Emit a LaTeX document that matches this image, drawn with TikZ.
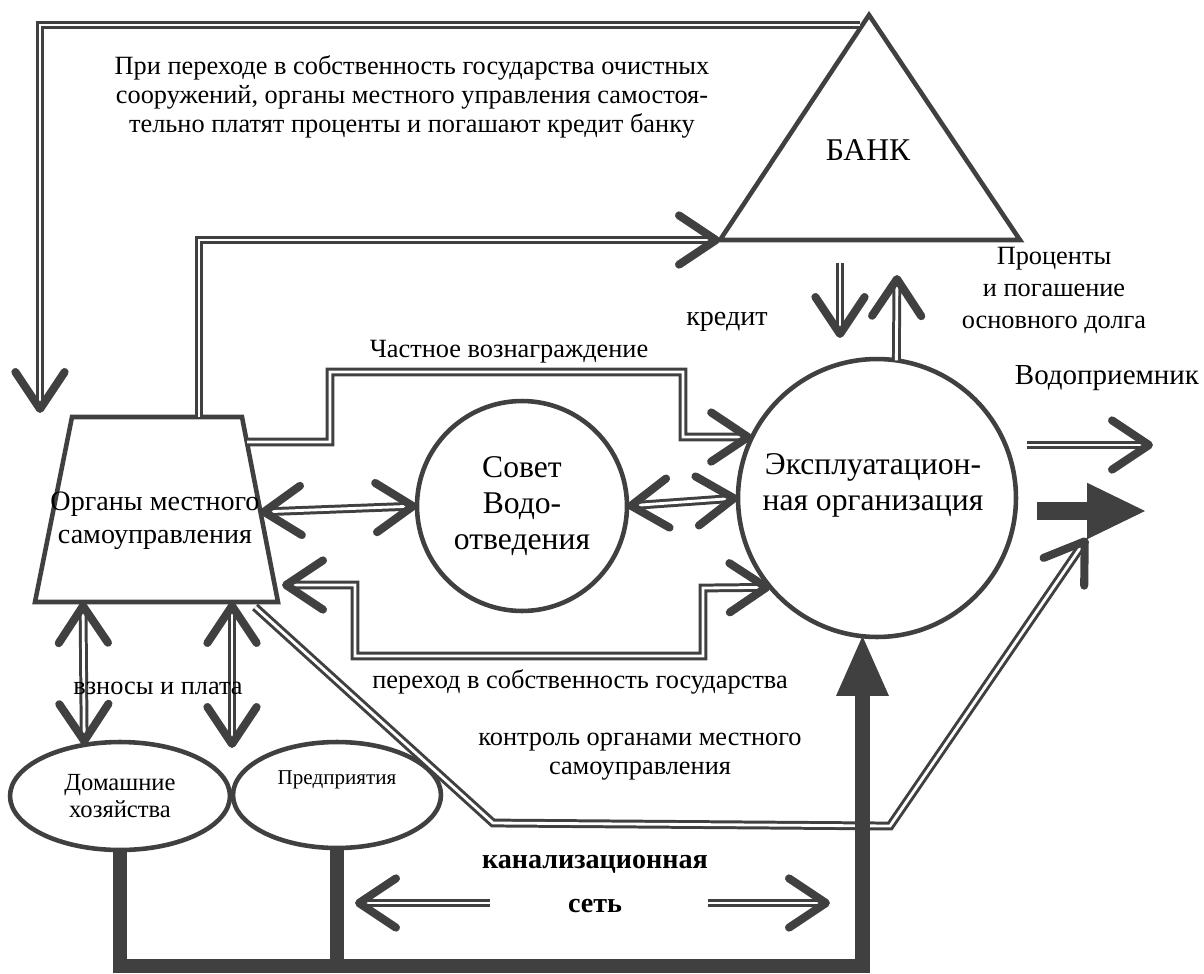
\documentclass[tikz,border=0pt]{standalone}
\usepackage{fontspec}
\setmainfont{Liberation Serif}
\usetikzlibrary{arrows.meta,shapes.geometric}
\definecolor{ink}{HTML}{404040}

\begin{document}
\begin{tikzpicture}[x=0.02cm, y=-0.02cm,
  every node/.style={inner sep=0pt, outer sep=0pt, align=center, font=\fontsize{15}{16.5}\selectfont},
  shp/.style={draw=ink, line width=2.6pt},
  dbl/.style={draw=ink, line width=1.7pt, double=white, double distance=1.6pt},
  barb/.tip={Straight Barb[length=21pt, width=28pt, line width=4.6pt, round]},
  chev/.style={-barb},
  chevs/.style={barb-barb},
  pipe/.style={draw=ink, line width=8pt},
  bigtxt/.style={font=\fontsize{18}{20.5}\selectfont},
]
\useasboundingbox (0,0) rectangle (1204,974);

% bank
\coordinate (bankL) at (720,240);
\coordinate (bankT) at (869,15);
\coordinate (bankR) at (1020,240);
\draw[shp] (bankL) -- (bankT) -- (bankR) -- cycle;
\node[bigtxt] (bank) at (868,150) {БАНК};

% local government
\coordinate (orgTL) at (72,417);
\coordinate (orgTR) at (242,417);
\coordinate (orgBR) at (278,602);
\coordinate (orgBL) at (35,602);
\coordinate (orgE) at (260,512);
\draw[shp] (orgTL) -- (orgTR) -- (orgBR) -- (orgBL) -- cycle;
\node[font=\fontsize{16}{18.8}\selectfont] (org) at (155,521) {Органы местного\\самоуправления};

% other participants
\node[shp, circle, minimum size=4.2cm, bigtxt] (sovet) at (522,506) {Совет\\Водо-\\отведения};
\node[shp, circle, minimum size=5.56cm] (expl) at (877,498) {};
\node[bigtxt] (expltxt) at (873,485) {Эксплуатацион-\\ная организация};
\node[shp, ellipse, minimum width=4.4cm, minimum height=2.16cm, font=\fontsize{14}{15.4}\selectfont] (home) at (120,796) {Домашние\\хозяйства};
\node[shp, ellipse, minimum width=4.16cm, minimum height=2.12cm] (firm) at (337,795) {};
\node[font=\fontsize{12}{14}\selectfont] (firmtxt) at (337,780) {Предприятия};

% labels
\node (note) at (412,97) {При переходе в собственность государства очистных\\сооружений, органы местного управления самостоя-\\тельно платят проценты и погашают кредит банку};
\node[font=\fontsize{16}{18}\selectfont] (credit) at (727,322) {кредит};
\node[font=\fontsize{15}{18.2}\selectfont] (repay) at (1054,290) {Проценты\\и погашение\\основного долга};
\node[font=\fontsize{16.5}{19}\selectfont] (sink) at (1107,378) {Водоприемник};
\node (reward) at (509,352) {Частное вознаграждение};
\node (state) at (580,682) {переход в собственность государства};
\node (control) at (640,757) {контроль органами местного\\самоуправления};
\node[font=\fontsize{16}{25}\selectfont\bfseries] (canal) at (595,884) {канализационная\\сеть};

% free ends
\coordinate (credA) at (840,263);
\coordinate (credB) at (840,338);
\coordinate (payA) at (897,275);
\coordinate (ctrlA) at (493,823);
\coordinate (ctrlB) at (890,826);
\coordinate (ctrlC) at (1087,538);
\coordinate (sinkA) at (1027,445);
\coordinate (sinkB) at (1153,445);
\coordinate (flowA) at (1037,511);
\coordinate (flowB) at (1145,511);
\coordinate (canLa) at (490,903);
\coordinate (canLb) at (355,903);
\coordinate (canRa) at (708,903);
\coordinate (canRb) at (830,903);

% money flows
\draw[dbl, chev] ([shift={(-9,10)}]bankT) -| ([shift={(-32,-4)}]orgTL);
\draw[dbl, chev] ([xshift=2.54cm]orgTL) |- (bankL);
\draw[dbl, chev] (credA) -- (credB);
\draw[dbl, chev] (expl.82) -- (payA);
\draw[dbl, chev] ([shift={(5,25)}]orgTR) -| (330,372) -| (683,437) -- (expl.154);
\draw[dbl, chevs] ([shift={(4,-17)}]orgBR) -| (355,656) -| (703,588) -- (expl.220);
\draw[dbl, chevs] (orgE) -- (sovet.west);
\draw[dbl, chevs] (sovet.east) -- (expl.west);
\draw[dbl, chevs] ([xshift=0.96cm]orgBL) -- (home.125);
\draw[dbl, chevs] ([xshift=-0.92cm]orgBR) -- ++(0,146);
\node (fees) at (158,688) {взносы и плата};

% control and outlet
\draw[dbl, chev] ([shift={(-23,5)}]orgBR) -- (ctrlA) -- (ctrlB) -- (ctrlC);
\draw[dbl, chev] (sinkA) -- (sinkB);
\draw[draw=ink, line width=10.5pt, -{Triangle[length=33pt, width=32pt, line width=0.5pt]}] (flowA) -- (flowB);

% sewer network
\draw[pipe, -{Triangle[length=34pt, width=30pt, line width=0.5pt]}] (home.south) -- (home.south |- 0,966) -| (expl.264);
\draw[pipe] (firm.south) -- (firm.south |- 0,960);
\draw[dbl, chev] (canLa) -- (canLb);
\draw[dbl, chev] (canRa) -- (canRb);
\end{tikzpicture}
\end{document}
